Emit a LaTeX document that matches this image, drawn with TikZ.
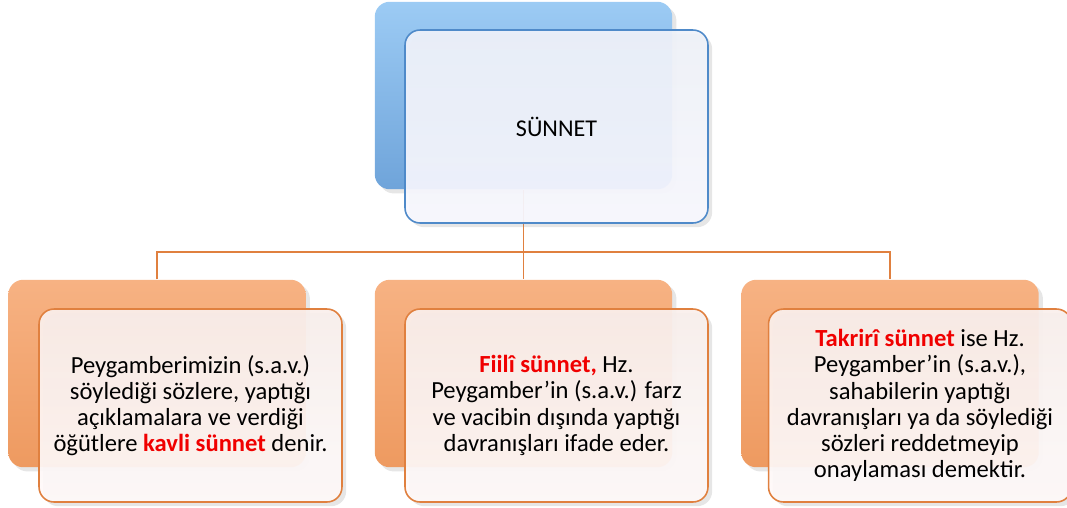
\documentclass[tikz,border=0pt]{standalone}
\usepackage{fontspec}
\setmainfont{Carlito}
\usetikzlibrary{shadows}
\definecolor{blueback}{HTML}{9CCBF4}
\definecolor{bluebackdark}{HTML}{6FA4DA}
\definecolor{blueline}{HTML}{4F8AC9}
\definecolor{bluefront}{HTML}{EFF2FA}
\definecolor{orangeback}{HTML}{F7B283}
\definecolor{orangebackdark}{HTML}{EE9A60}
\definecolor{orangeline}{HTML}{E0803F}
\definecolor{orangefront}{HTML}{FAEFEC}
\definecolor{redword}{HTML}{F00000}
\tikzset{
  backbox/.style={rounded corners=0.3cm, minimum width=5.95cm, minimum height=3.75cm, draw=none, drop shadow={opacity=0.2}},
  bluebackbox/.style={backbox, top color=blueback, bottom color=bluebackdark},
  orangebackbox/.style={backbox, top color=orangeback, bottom color=orangebackdark},
  frontbox/.style={rounded corners=0.3cm, minimum width=6.06cm, minimum height=3.86cm, line width=0.9pt, fill opacity=0.93, text opacity=1, align=center, font=\fontsize{14}{14.9}\selectfont, drop shadow={opacity=0.2}},
  bluefrontbox/.style={frontbox, draw=blueline, top color=bluefront, bottom color=white!97!blue, font=\fontsize{13.7}{15}\selectfont},
  orangefrontbox/.style={frontbox, draw=orangeline, top color=orangefront, bottom color=white!98!red},
  conn/.style={draw=orangeline, line width=1.1pt}
}
\newcommand{\hotword}[1]{\textcolor{redword}{\textbf{#1}}}
\begin{document}
\begin{tikzpicture}[x=0.02cm, y=-0.02cm]
		%%%%% START %%%%%
		\useasboundingbox (0, 0) rectangle (1067, 507);
		
		% back boxes
		\node[bluebackbox] (topback) at (523.5, 95.5) {};
		\node[orangebackbox] (leftback) at (157, 373.5) {};
		\node[orangebackbox] (midback) at (523.5, 373.5) {};
		\node[orangebackbox] (rightback) at (890, 373.5) {};
		
		% connectors
		\coordinate (bus) at (523.5, 252);
		\draw[conn] (topback.south) -- (bus);
		\draw[conn] (leftback.north) |- (bus) -| (rightback.north);
		\draw[conn] (bus) -- (midback.north);
		
		% front boxes
		\node[bluefrontbox] (topfront) at (556.5, 126.5) {SÜNNET};
		\node[orangefrontbox] (leftfront) at (190.5, 405.5) {Peygamberimizin (s.a.v.)\\söylediği sözlere, yaptığı\\açıklamalara ve verdiği\\öğütlere \hotword{kavli sünnet} denir.};
		\node[orangefrontbox] (midfront) at (556.5, 405.5) {\hotword{Fiilî sünnet,} Hz.\\Peygamber’in (s.a.v.) farz\\ve vacibin dışında yaptığı\\davranışları ifade eder.};
		\node[orangefrontbox] (rightfront) at (920, 405.5) {\hotword{Takrirî sünnet} ise Hz.\\Peygamber’in (s.a.v.),\\sahabilerin yaptığı\\davranışları ya da söylediği\\sözleri reddetmeyip\\onaylaması demektir.};
		%%%%% END %%%%%
	\end{tikzpicture}
\end{document}
